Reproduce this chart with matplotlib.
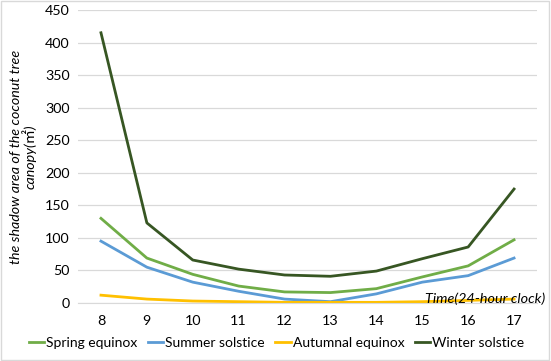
import matplotlib
matplotlib.use("Agg")
import matplotlib.pyplot as plt
from matplotlib.patches import Rectangle

hours = ["8", "9", "10", "11", "12", "13", "14", "15", "16", "17"]
spring = [130, 69, 44, 26, 17, 16, 22, 40, 57, 97]
summer = [95, 55, 32, 18, 6, 2, 14, 32, 42, 69]
autumn = [12, 6, 3, 2, 1, 1, 1, 2, 4, 6]
winter = [415, 123, 66, 52, 43, 41, 49, 68, 86, 175]

series = [
    ("Spring equinox", spring, "#70AD47"),
    ("Summer solstice", summer, "#5B9BD5"),
    ("Autumnal equinox", autumn, "#FFC000"),
    ("Winter solstice", winter, "#375623"),
]

plt.rcParams['font.family'] = ['Lato', 'Noto Sans CJK SC', 'DejaVu Sans']

fig = plt.figure(figsize=(5.51, 3.61), dpi=100)
ax = fig.add_axes([0.1416, 0.1607, 0.8330, 0.8116])

x = list(range(len(hours)))
for name, vals, col in series:
    ax.plot(x, vals, color=col, lw=2.0, label=name, solid_joinstyle='round')

ax.set_xlim(-0.5, len(hours) - 0.5)
ax.set_ylim(0, 450)
ax.set_yticks(range(0, 451, 50))
ax.set_xticks(x)
ax.set_xticklabels(hours)
ax.grid(axis='y', color='#D9D9D9', lw=0.9)
ax.set_axisbelow(True)
for s in ['top', 'right', 'left']:
    ax.spines[s].set_visible(False)
ax.spines['bottom'].set_color('#D9D9D9')
ax.tick_params(axis='both', length=0, labelsize=10.3, colors='#000000', pad=6)
ax.tick_params(axis='x', pad=9)

ax.set_ylabel("the shadow area of the coconut tree\ncanopy(㎡)", fontsize=10.3,
              fontstyle='italic', labelpad=6, linespacing=1.0)

fig.text(0.99, 0.173, "Time(24-hour clock)", fontsize=10.4, fontstyle='italic',
         ha='right', va='center')

leg = fig.legend(loc='center', bbox_to_anchor=(0.502, 0.05), ncol=4, frameon=False,
                 fontsize=10, handlelength=1.1, handletextpad=0.15, columnspacing=0.75)

fig.patches.append(Rectangle((0.002, 0.003), 0.995, 0.993, transform=fig.transFigure,
                             fill=False, edgecolor='#D9D9D9', lw=1))

fig.savefig("out.png", dpi=100)
